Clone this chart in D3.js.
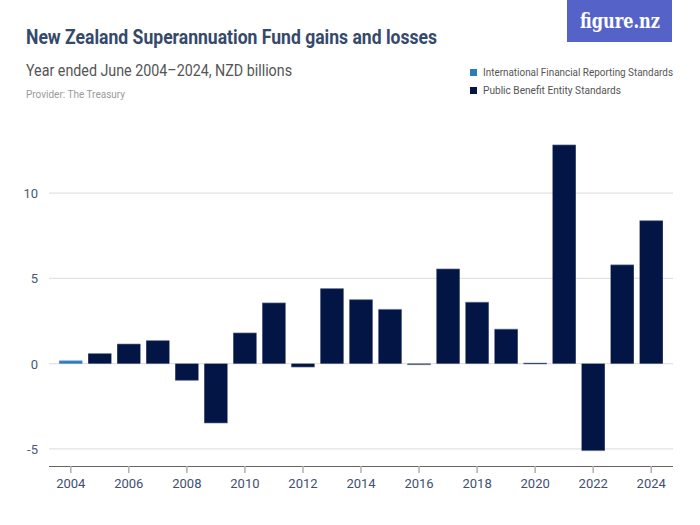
<!DOCTYPE html>
<html lang="en">
<head>
<meta charset="UTF-8">
<script src="https://cdn.jsdelivr.net/npm/d3@7"></script>
<title>New Zealand Superannuation Fund gains and losses</title>
<style>
	body { margin: 0; background: #fff; }
	svg { display: block; font-family: "Roboto", "Liberation Sans", sans-serif; }
</style>
</head>
<body>
<script>
	// values, NZD billions
	const years = ["2004", "2005", "2006", "2007", "2008", "2009", "2010", "2011", "2012", "2013", "2014",
		"2015", "2016", "2017", "2018", "2019", "2020", "2021", "2022", "2023", "2024"]
	const values = [0.17, 0.59, 1.15, 1.35, -0.98, -3.48, 1.8, 3.56, -0.2, 4.4, 3.75,
		3.18, -0.06, 5.55, 3.6, 2.02, 0.03, 12.82, -5.1, 5.79, 8.38]
	// 2004 was reported under IFRS, the rest under PBE standards
	const standards = ["IFRS", "PBE", "PBE", "PBE", "PBE", "PBE", "PBE", "PBE", "PBE", "PBE", "PBE",
		"PBE", "PBE", "PBE", "PBE", "PBE", "PBE", "PBE", "PBE", "PBE", "PBE"]
	const legendLabels = ["International Financial Reporting Standards", "Public Benefit Entity Standards"]
	const yTicks = [-5, 0, 5, 10]
	const xTicks = ["2004", "2006", "2008", "2010", "2012", "2014", "2016", "2018", "2020", "2022", "2024"]

	const W = 700, H = 525
	const plot = { left: 49, right: 673, top: 120, bottom: 466 }
	const colours = { IFRS: "#2b7bbf", PBE: "#031545" }

	const svg = d3.select("body").append("svg")
		.attr("width", W)
		.attr("height", H)

	// header (the original face is a narrow grotesque, so squeeze Roboto to the same width)
	svg.append("text").attr("x", 26).attr("y", 44)
		.attr("font-size", 20).attr("font-weight", "bold").attr("fill", "#35496d")
		.attr("textLength", 411).attr("lengthAdjust", "spacingAndGlyphs")
		.text("New Zealand Superannuation Fund gains and losses")
	svg.append("text").attr("x", 26).attr("y", 76)
		.attr("font-size", 16).attr("fill", "#555")
		.attr("textLength", 266).attr("lengthAdjust", "spacingAndGlyphs")
		.text("Year ended June 2004\u20132024, NZD billions")
	svg.append("text").attr("x", 26).attr("y", 98)
		.attr("font-size", 11).attr("fill", "#9a9a9a")
		.attr("textLength", 99).attr("lengthAdjust", "spacingAndGlyphs")
		.text("Provider: The Treasury")

	// logo
	svg.append("rect").attr("x", 567).attr("y", 0).attr("width", 105).attr("height", 42)
		.attr("fill", "#5563c9")
	svg.append("text").attr("x", 580).attr("y", 28)
		.attr("font-family", "DejaVu Serif, serif").attr("font-size", 21).attr("font-weight", "bold")
		.attr("fill", "#fff")
		.attr("textLength", 80).attr("lengthAdjust", "spacingAndGlyphs")
		.text("figure.nz")

	// legend
	const legendWidths = [190, 138]
	const legend = svg.append("g").selectAll("g")
		.data(legendLabels)
		.join("g")
		.attr("transform", (d, i) => `translate(470,${73 + i * 18})`)
	legend.append("rect").attr("x", 0).attr("y", -4).attr("width", 7).attr("height", 7)
		.attr("fill", (d, i) => i === 0 ? colours.IFRS : colours.PBE)
	legend.append("text").attr("x", 13).attr("y", 3)
		.attr("font-size", 11).attr("fill", "#555")
		.attr("textLength", (d, i) => legendWidths[i]).attr("lengthAdjust", "spacingAndGlyphs")
		.text(d => d)

	/*---------------- scales ----------------*/
	const x = d3.scaleBand()
		.domain(years)
		.range([plot.left, plot.right])
		.paddingInner(0.2)
		.paddingOuter(0.35)

	const y = d3.scaleLinear()
		.domain([-6.0, 14.3])
		.range([plot.bottom, plot.bottom - 20.3 * 17.06])

	// grid
	svg.append("g").selectAll("line")
		.data(yTicks)
		.join("line")
		.attr("x1", plot.left).attr("x2", plot.right)
		.attr("y1", d => y(d)).attr("y2", d => y(d))
		.attr("stroke", "#e2e2e2").attr("stroke-width", 1.2)

	// y labels
	svg.append("g").selectAll("text")
		.data(yTicks)
		.join("text")
		.attr("x", 38).attr("y", d => y(d) + 5)
		.attr("text-anchor", "end")
		.attr("font-size", 13).attr("fill", "#4a5878")
		.text(d => d)

	// bars
	svg.append("g").selectAll("rect")
		.data(years)
		.join("rect")
		.attr("x", d => x(d))
		.attr("width", x.bandwidth())
		.attr("y", (d, i) => Math.min(y(values[i]), y(0)))
		.attr("height", (d, i) => Math.max(Math.abs(y(values[i]) - y(0)), 1))
		.attr("fill", (d, i) => colours[standards[i]])

	// thin lighter cap at the end of each bar
	svg.append("g").selectAll("line")
		.data(years)
		.join("line")
		.attr("x1", d => x(d)).attr("x2", d => x(d) + x.bandwidth())
		.attr("y1", (d, i) => y(values[i])).attr("y2", (d, i) => y(values[i]))
		.attr("stroke", (d, i) => standards[i] === "IFRS" ? "#7fb0db" : "#6f7897")
		.attr("stroke-width", 1)
		.attr("opacity", 0.6)

	// x axis
	const xAxis = svg.append("g")
		.attr("transform", `translate(0,${plot.bottom})`)
		.call(d3.axisBottom(x).tickValues(xTicks).tickSize(7).tickSizeOuter(0).tickPadding(6))
	xAxis.select(".domain").attr("d", `M${plot.left},0.5H${plot.right}`).attr("stroke", "#666")
	xAxis.selectAll(".tick line").attr("stroke", "#b0b0b0").attr("stroke-width", 1.5)
	xAxis.selectAll(".tick text")
		.attr("font-family", "Roboto, sans-serif")
		.attr("font-size", 13).attr("fill", "#3e5074")
</script>
</body>
</html>
